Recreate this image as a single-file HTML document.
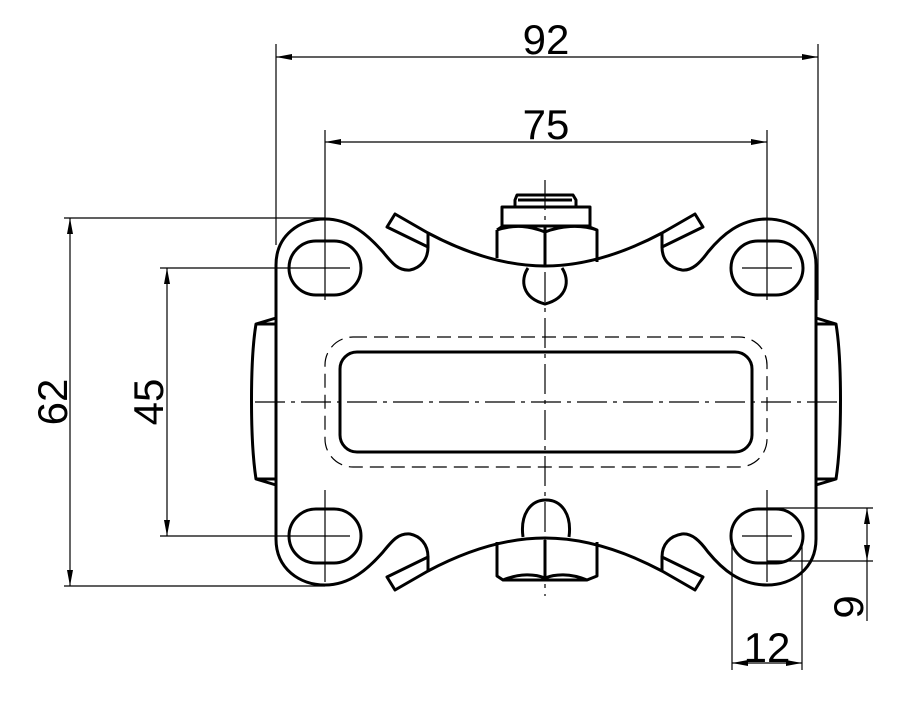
<!DOCTYPE html>
<html><head><meta charset="utf-8"><style>html,body{margin:0;padding:0;background:#fff}svg{display:block}</style></head>
<body>
<svg width="919" height="704" viewBox="0 0 919 704" xmlns="http://www.w3.org/2000/svg">
<defs>
<marker id="a" viewBox="0 0 16 6" refX="16" refY="3" markerWidth="16" markerHeight="6" markerUnits="userSpaceOnUse" orient="auto-start-reverse"><path d="M0,0 L16,3 L0,6z" fill="#000"/></marker>
</defs>
<g stroke="#000" stroke-width="1.2" fill="none">
<line x1="276" y1="44" x2="276" y2="245"/>
<line x1="818" y1="44" x2="818" y2="300"/>
<line x1="325" y1="130" x2="325" y2="300"/>
<line x1="767" y1="130" x2="767" y2="300"/>
<line x1="64" y1="218" x2="325" y2="218"/>
<line x1="64" y1="586" x2="325" y2="586"/>
<line x1="160" y1="268" x2="300" y2="268"/>
<line x1="160" y1="536" x2="300" y2="536"/>
<line x1="767" y1="508" x2="873" y2="508"/>
<line x1="767" y1="561" x2="873" y2="561"/>
<line x1="732" y1="540" x2="732" y2="670"/>
<line x1="802" y1="540" x2="802" y2="670"/>
<line x1="867" y1="561" x2="867" y2="621"/>
<line x1="276" y1="57" x2="818" y2="57" marker-start="url(#a)" marker-end="url(#a)"/>
<line x1="325" y1="142" x2="767" y2="142" marker-start="url(#a)" marker-end="url(#a)"/>
<line x1="70" y1="218" x2="70" y2="586" marker-start="url(#a)" marker-end="url(#a)"/>
<line x1="167" y1="268" x2="167" y2="536" marker-start="url(#a)" marker-end="url(#a)"/>
<line x1="867" y1="508" x2="867" y2="561" marker-start="url(#a)" marker-end="url(#a)"/>
<line x1="732" y1="663" x2="802" y2="663" marker-start="url(#a)" marker-end="url(#a)"/>
<line x1="255" y1="402" x2="838" y2="402" stroke-dasharray="30,6,4,6"/>
<line x1="545" y1="180" x2="545" y2="596" stroke-dasharray="30,6,4,6"/>
<line x1="325" y1="490" x2="325" y2="582"/>
<line x1="767" y1="490" x2="767" y2="582"/>
<line x1="300" y1="268" x2="350" y2="268"/><line x1="742" y1="268" x2="792" y2="268"/>
<line x1="300" y1="536" x2="350" y2="536"/><line x1="742" y1="536" x2="792" y2="536"/>
<rect x="325" y="337" width="442" height="130" rx="28" stroke-dasharray="14,7"/>
</g>
<g stroke="#000" stroke-width="3" fill="none" stroke-linejoin="round">
<path id="half" d="M276,402 L276,265 C276,235 300,219 325,219 C350,219 368,235 383,252 C392,263 398,271 410,270 C420,268 428,260 428,247 M428,233 C460,250 500,266 545,266 C590,266 630,250 662,233 M662,247 C662,260 670,268 682,270 C692,271 700,263 708,252 C722,235 740,219 767,219 C792,219 816,235 816,265 L816,402"/>
<use href="#half" transform="matrix(1,0,0,-1,0,804)"/>
<polygon points="387,227 395,214 428,233 428,247"/>
<polygon points="703,227 695,214 662,233 662,247"/>
<polygon points="387,577 395,590 428,571 428,557"/>
<polygon points="703,577 695,590 662,571 662,557"/>
<rect x="289" y="241" width="72" height="54" rx="27"/>
<rect x="731" y="241" width="72" height="54" rx="27"/>
<rect x="289" y="509" width="72" height="54" rx="27"/>
<rect x="731" y="509" width="72" height="54" rx="27"/>
<rect x="340" y="352" width="412" height="100" rx="17"/>
<path d="M276,318 L256,324 C250,360 250,440 256,479 L276,485"/>
<path d="M256,324 L276,324 M256,479 L276,479"/>
<path d="M816,318 L836,324 C842,360 842,440 836,479 L816,485"/>
<path d="M836,324 L816,324 M836,479 L816,479"/>
<path d="M517,195 L573,195 L576,200 L576,207 L515,207 L515,200z M518,200 L572,200"/>
<rect x="502" y="207" width="88" height="19"/>
<path d="M497,230 L503,226 L587,226 L597,230 L597,262 M497,230 L497,258 M545,226 L545,265 M497,230 C515,224 530,226 545,232 C560,226 580,224 597,230"/>
<path d="M528,268 C520,280 522,298 545,304 C568,298 570,280 562,268"/>
<path d="M497,542 L497,576 L503,580 L587,580 L597,576 L597,542 M545,540 L545,580 M503,580 C520,573 535,574 545,578 C555,574 570,573 587,580"/>
<path d="M523,537 C520,515 530,500 546,500 C562,500 572,515 569,537"/>
</g>
<g font-family="Liberation Sans, sans-serif" font-size="42" fill="#000" text-anchor="middle">
<text x="546" y="54">92</text>
<text x="546" y="139">75</text>
<text transform="translate(67,402) rotate(-90)">62</text>
<text transform="translate(163,402) rotate(-90)">45</text>
<text transform="translate(863,607) rotate(-90)">9</text>
<text x="767" y="662">12</text>
</g>
</svg>
</body></html>
